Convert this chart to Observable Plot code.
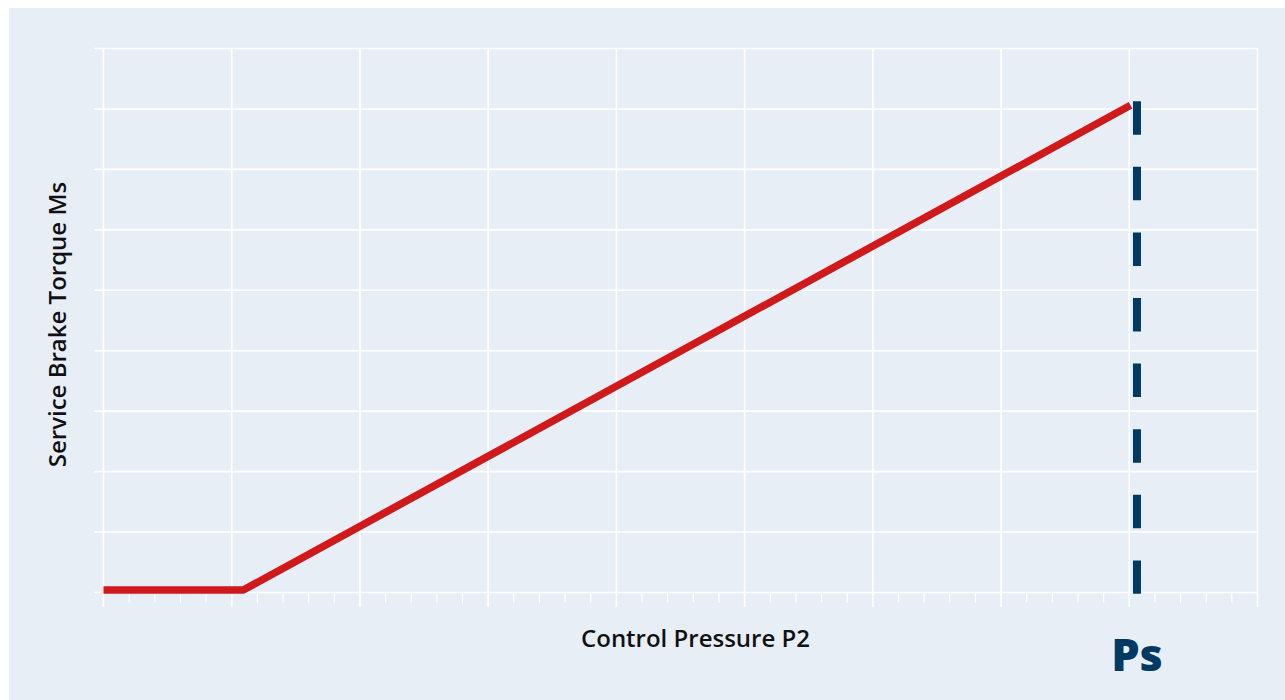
<!DOCTYPE html>
<html>
<head>
<meta charset="utf-8">
<script src="https://cdn.jsdelivr.net/npm/d3@7"></script>
<script src="https://cdn.jsdelivr.net/npm/@observablehq/plot@0.6"></script>
<style>
  html, body { margin: 0; padding: 0; background: #ffffff; }
  #wrap { position: absolute; left: 9px; top: 8px; }
  svg { display: block; }
</style>
</head>
<body>
<div id="wrap"></div>
<script>
// Data (arbitrary units, grid 0..9)
const majorTicks = [0, 1, 2, 3, 4, 5, 6, 7, 8, 9];
const minorTicks = [0.2, 0.4, 0.6, 0.8, 1.2, 1.4, 1.6, 1.8, 2.2, 2.4, 2.6, 2.8,
  3.2, 3.4, 3.6, 3.8, 4.2, 4.4, 4.6, 4.8, 5.2, 5.4, 5.6, 5.8, 6.2, 6.4, 6.6, 6.8,
  7.2, 7.4, 7.6, 7.8, 8.2, 8.4, 8.6, 8.8];
const pressure = [0, 1.09, 8.01];
const torque = [0.04, 0.04, 8.06];
const psPressure = [8.06];
const psTop = [8.12];
const psBottom = [-0.03];
const xLabel = "Control Pressure P2";
const yLabel = "Service Brake Torque Ms";
const psLabel = "Ps";

const curve = pressure.map((p, i) => ({p, t: torque[i]}));
const ps = psPressure.map((p, i) => ({p, y1: psTop[i], y2: psBottom[i]}));

const grid = "#ffffff";
const navy = "#003a63";
const red = "#d0191b";

const chart = Plot.plot({
  width: 1276,
  height: 692,
  marginLeft: 94,
  marginRight: 28,
  marginTop: 40,
  marginBottom: 108,
  style: {background: "#e8eef6", fontFamily: "'Open Sans', sans-serif"},
  x: {domain: [0, 9], label: null, axis: null},
  y: {domain: [0, 9], label: null, axis: null},
  marks: [
    Plot.gridX(majorTicks, {stroke: grid, strokeOpacity: 1, strokeWidth: 1.6}),
    Plot.gridY(majorTicks, {stroke: grid, strokeOpacity: 1, strokeWidth: 1.6}),
    Plot.axisX(majorTicks, {tickSize: 15, stroke: grid, strokeWidth: 1.6, tickFormat: () => "", label: null}),
    Plot.axisX(minorTicks, {tickSize: 11, stroke: grid, strokeWidth: 1.2, tickFormat: () => "", label: null}),
    Plot.axisY(majorTicks, {tickSize: 9, stroke: grid, strokeWidth: 1.6, tickFormat: () => "", label: null}),
    Plot.line(curve, {x: "p", y: "t", stroke: red, strokeWidth: 7.5, strokeLinecap: "butt", strokeLinejoin: "miter"}),
    Plot.ruleX(ps, {x: "p", y1: "y1", y2: "y2", stroke: navy, strokeWidth: 8, strokeDasharray: "33.5,32.1"}),
    Plot.text([psLabel], {x: psPressure[0], y: 0, text: d => d, dy: 64, fill: navy, fontSize: 45, fontWeight: 800, textAnchor: "middle", lineAnchor: "middle"}),
    Plot.text([xLabel], {frameAnchor: "bottom", text: d => d, dx: 15, dy: 47, fill: "#111111", fontSize: 24, fontWeight: 600, textAnchor: "middle", lineAnchor: "middle"}),
    Plot.text([yLabel], {frameAnchor: "left", text: d => d, rotate: -90, dx: -45, dy: 4, fill: "#111111", fontSize: 24, fontWeight: 600, textAnchor: "middle", lineAnchor: "middle"})
  ]
});
document.getElementById("wrap").appendChild(chart);
</script>
</body>
</html>
